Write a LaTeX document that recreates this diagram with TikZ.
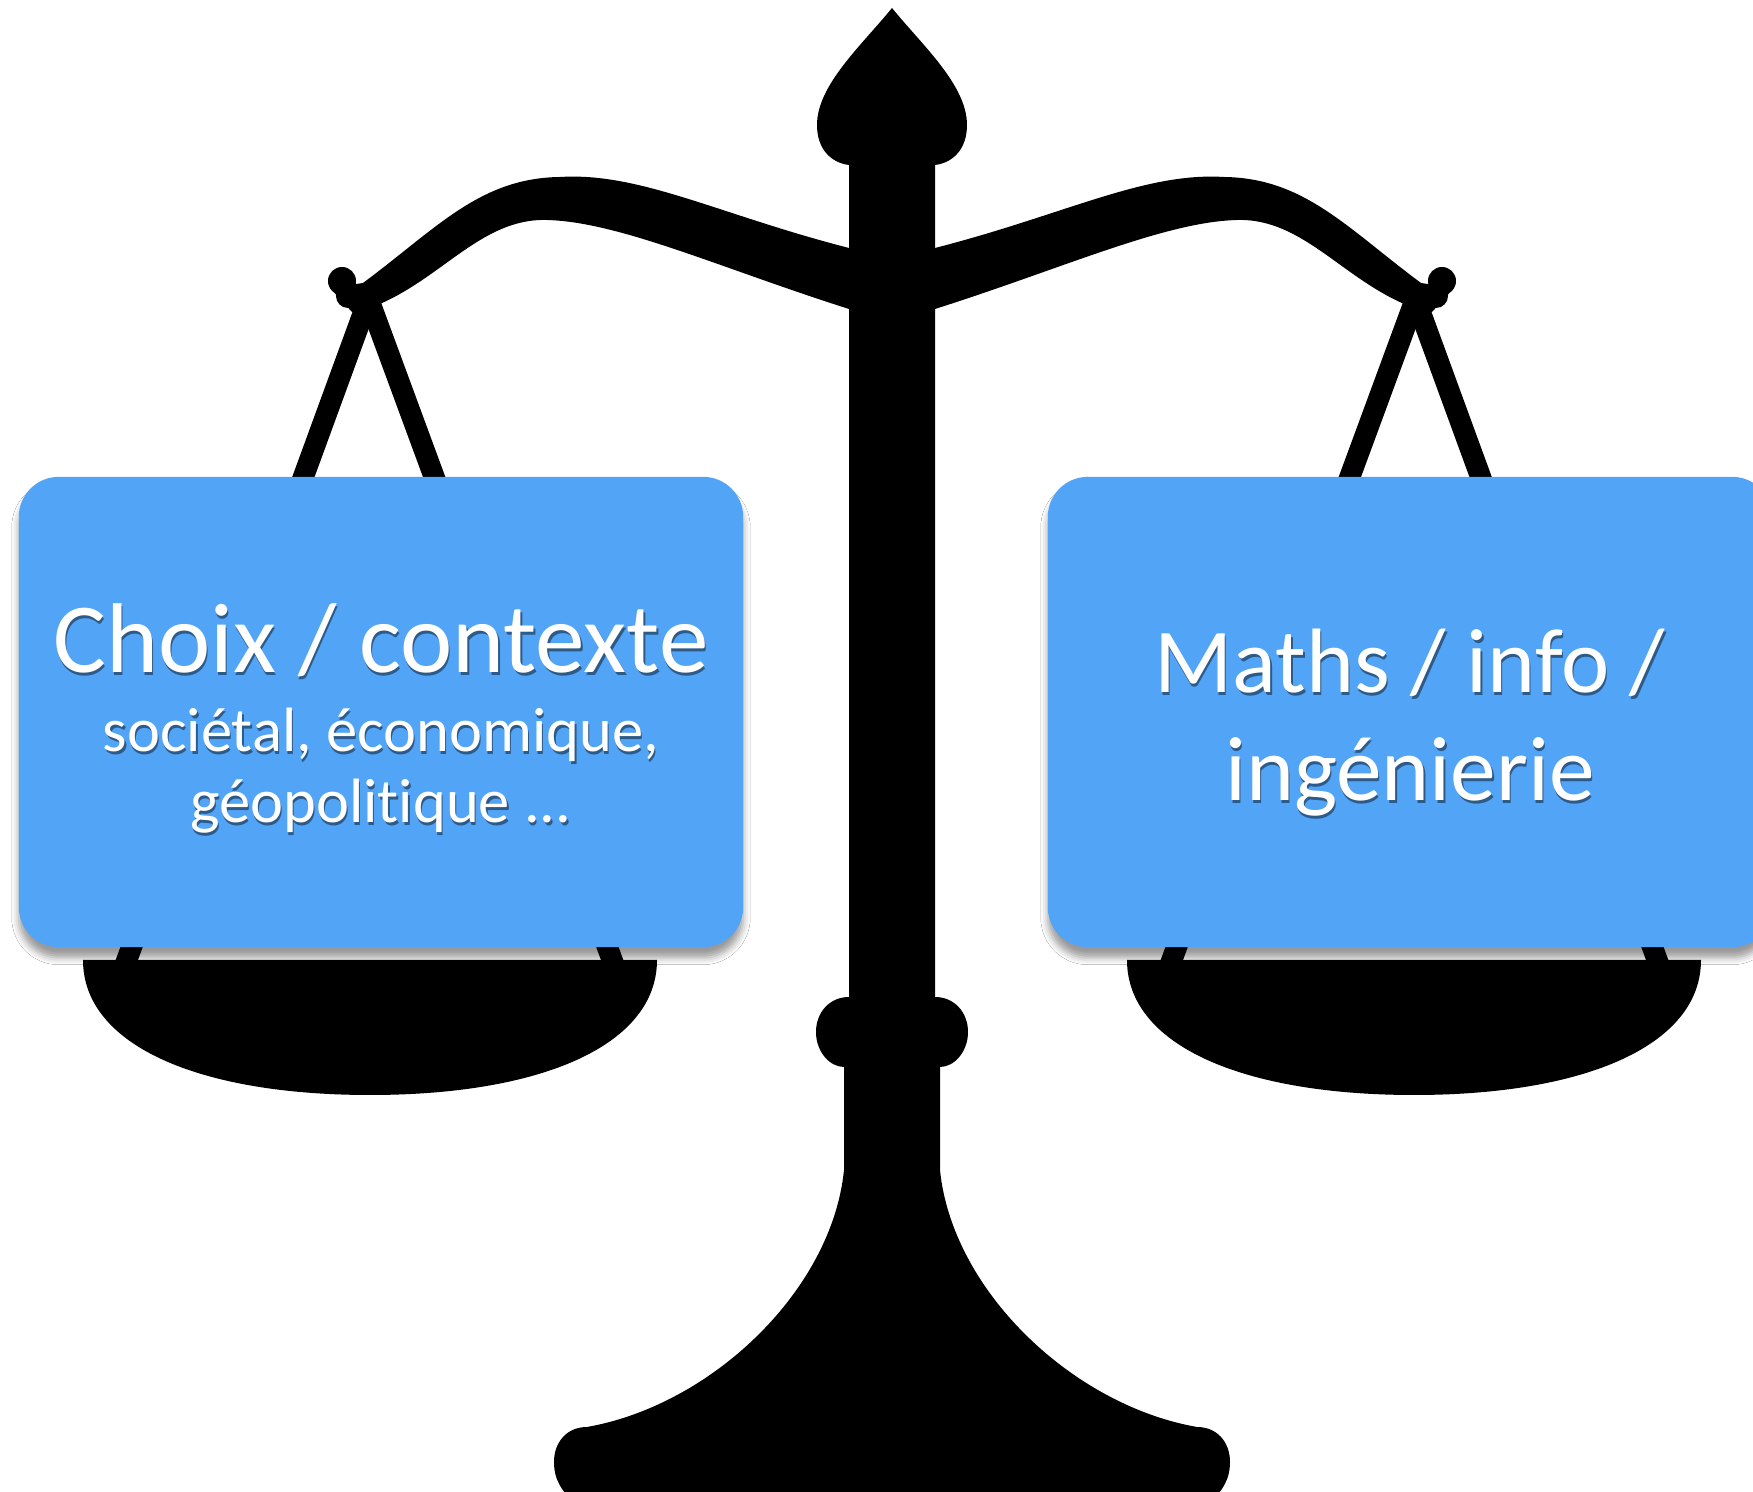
\documentclass[tikz,border=0pt]{standalone}
\usepackage{fontspec}
\newfontfamily\panelfont[Ligatures=NoCommon]{Carlito}
\usepackage{tikz}
\usetikzlibrary{shadows.blur,positioning}

\definecolor{panelblue}{RGB}{82,164,246}
\colorlet{textshade}{panelblue!55!black}
\newcommand{\softtext}[1]{\leavevmode\rlap{\kern0.4pt\raisebox{-0.9pt}{\color{textshade}#1}}#1}

\begin{document}
\begin{tikzpicture}[x=0.01cm,y=-0.01cm,
    panel/.style={rectangle, rounded corners=0.4cm, fill=panelblue, text=white, align=center,
        minimum width=7.24cm, minimum height=4.7cm, inner sep=0pt,
        blur shadow={shadow xshift=0pt, shadow yshift=-3pt, shadow blur radius=2pt, shadow opacity=40}},
    small/.style={font=\panelfont\fontsize{17.8}{20.2}\selectfont},
    large/.style={font=\panelfont\fontsize{26}{30.7}\selectfont},
    string/.style={line width=0.21cm}]
    \clip (0,0) rectangle (1753,1492);
    \fill[white] (0,0) rectangle (1753,1492);

    \begin{scope}[shift={(892,0)}]
    \foreach \s in {1,-1} {
        \begin{scope}[xscale=\s]
        % finial, pillar, ring and foot
        \fill (0,8) .. controls (-30,45) and (-75,85) .. (-75,125)
            .. controls (-75,150) and (-60,163) .. (-43,165) -- (-43,997)
            .. controls (-62,997) and (-76,1012) .. (-76,1032)
            .. controls (-76,1052) and (-62,1067) .. (-48,1067) -- (-48,1170)
            .. controls (-60,1290) and (-180,1405) .. (-305,1427)
            .. controls (-325,1427) and (-338,1442) .. (-338,1462)
            .. controls (-338,1480) and (-330,1492) .. (-315,1505) -- (1.5,1505) -- cycle;
        % beam arm with its hook
        \fill (-30,246) -- (-43,248) .. controls (-172,215) and (-252,172) .. (-332,177)
            .. controls (-412,178) and (-455,228) .. (-529,283) -- (-562,288) -- (-540,312) -- (-522,308)
            .. controls (-452,282) and (-412,218) .. (-345,220)
            .. controls (-272,222) and (-172,268) .. (-43,309) -- (-30,309) -- cycle;
        \fill (-550,281) circle (0.14cm);
        \fill (-544,296) circle (0.12cm);
        % strings and pan
        \draw[string] (-521,292) -- (-767,965);
        \draw[string] (-526,292) -- (-278,965);
        \fill (-809,960) -- (-235,960) .. controls (-235,1045) and (-350,1095) .. (-522,1095)
            .. controls (-694,1095) and (-809,1045) .. (-809,960) -- cycle;
        \end{scope}
    }
    \end{scope}

    \node[panel, small] (context) at (381,712)
        {{\fontsize{28.2}{30}\selectfont\rule{0pt}{24pt}\softtext{Choix / contexte}}\\[2.3pt]
         \softtext{sociétal, économique,}\\
         \softtext{géopolitique ...}};
    \node[panel, large] (maths) at (1410,712)
        {\rule{0pt}{25pt}\softtext{Maths / info /}\\
         \softtext{ingénierie}};
\end{tikzpicture}
\end{document}
